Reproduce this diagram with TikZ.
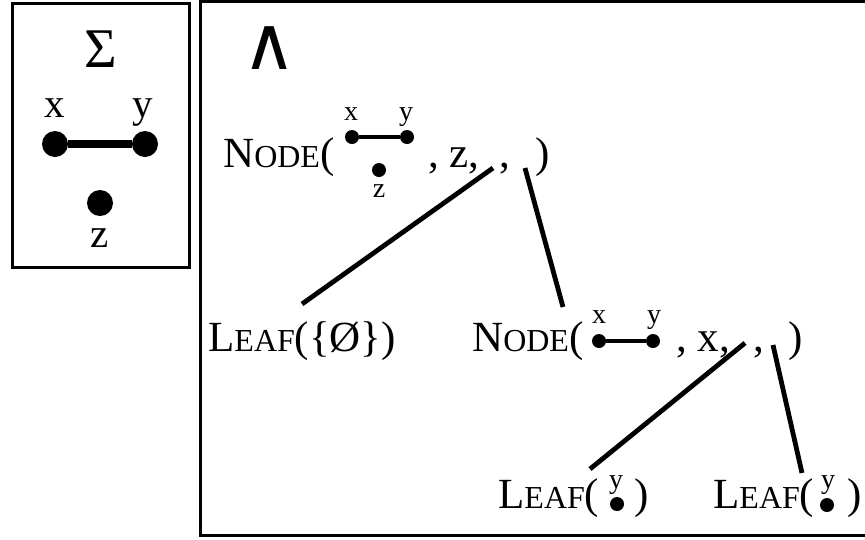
\documentclass[tikz,border=0pt]{standalone}
\usepackage{fontspec}
\setmainfont{Liberation Serif}
\newfontfamily\symfont{DejaVu Sans}
\newcommand\fsc[2]{#1{\fontsize{32}{32}\selectfont #2}}
\begin{document}
\begin{tikzpicture}[x=1pt,y=-1pt,
  box/.style={draw,line width=3pt},
  conn/.style={line width=4.8pt},
  bigdot/.style={circle,fill,inner sep=0,minimum size=26pt},
  smalldot/.style={circle,fill,inner sep=0,minimum size=14pt},
  txt/.style={inner sep=0,anchor=base west,font=\fontsize{43}{43}\selectfont},
  lbl/.style={inner sep=0,anchor=base,font=\fontsize{41}{41}\selectfont},
  slbl/.style={inner sep=0,anchor=base,font=\fontsize{28}{28}\selectfont},
]
\useasboundingbox (0,0) rectangle (865,539);
% boxes
\draw[box] (12,3) rectangle (189,267);
\draw[box] (200,1.5) rectangle (880,535);
% Sigma panel
\node[inner sep=0,font=\fontsize{56}{56}\selectfont] (sigma) at (101,49) {Σ};
\node[lbl] (sx) at (55,117) {x};
\node[lbl] (sy) at (143,117) {y};
\node[bigdot] (dx) at (55,144) {};
\node[bigdot] (dy) at (145,144) {};
\node[bigdot] (dz) at (100,203) {};
\node[lbl] (sz) at (100,247) {z};
\draw[line width=8pt] (dx) -- (dy);
% Lambda panel
\node[inner sep=0,font=\symfont\fontsize{74}{74}\selectfont] (lam) at (270,48) {∧};
% Node 1
\node[txt] (n1) at (223,167) {\fsc{N}{ODE}(};
\node[smalldot] (n1x) at (352,137) {};
\node[smalldot] (n1y) at (407,137) {};
\node[smalldot] (n1z) at (379,170) {};
\draw[line width=4.5pt] (n1x) -- (n1y);
\node[slbl] (n1xl) at (351,120) {x};
\node[slbl] (n1yl) at (406,120) {y};
\node[slbl] (n1zl) at (379,197) {z};
\node[txt] (n1t) at (428,167) {, z,};
\node[txt] (n1c) at (499,167) {,};
\node[txt] (n1p) at (535,167) {)};
\coordinate (s1a) at (493,168);
\coordinate (s1b) at (525,168);
% Leaf 1
\node[txt] (l1) at (208,351) {\fsc{L}{EAF}(\{Ø\})};
\coordinate (l1top) at (302,304);
% Node 2
\node[txt] (n2) at (472,351) {\fsc{N}{ODE}(};
\node[smalldot] (n2x) at (599,341) {};
\node[smalldot] (n2y) at (653,341) {};
\draw[line width=4.5pt] (n2x) -- (n2y);
\node[slbl] (n2xl) at (599,323) {x};
\node[slbl] (n2yl) at (654,323) {y};
\node[txt] (n2t) at (676,351) {, x,};
\node[txt] (n2c) at (753,351) {,};
\node[txt] (n2p) at (788,351) {)};
\coordinate (s2a) at (745,343);
\coordinate (s2b) at (773,345);
\coordinate (n2top) at (563,307);
% Leaf 3 and 4
\node[txt] (l3) at (498,508) {\fsc{L}{EAF}(};
\node[slbl] (l3yl) at (616,488) {y};
\node[smalldot] (l3d) at (617,504) {};
\node[txt] (l3p) at (634,508) {)};
\coordinate (l3top) at (590,469);
\node[txt] (l4) at (713,508) {\fsc{L}{EAF}(};
\node[slbl] (l4yl) at (828,488) {y};
\node[smalldot] (l4d) at (827,505) {};
\node[txt] (l4p) at (847,508) {)};
\coordinate (l4top) at (802,473);
% connectors
\draw[conn] (s1a) -- (l1top);
\draw[conn] (s1b) -- (n2top);
\draw[conn] (s2a) -- (l3top);
\draw[conn] (s2b) -- (l4top);
\end{tikzpicture}
\end{document}
